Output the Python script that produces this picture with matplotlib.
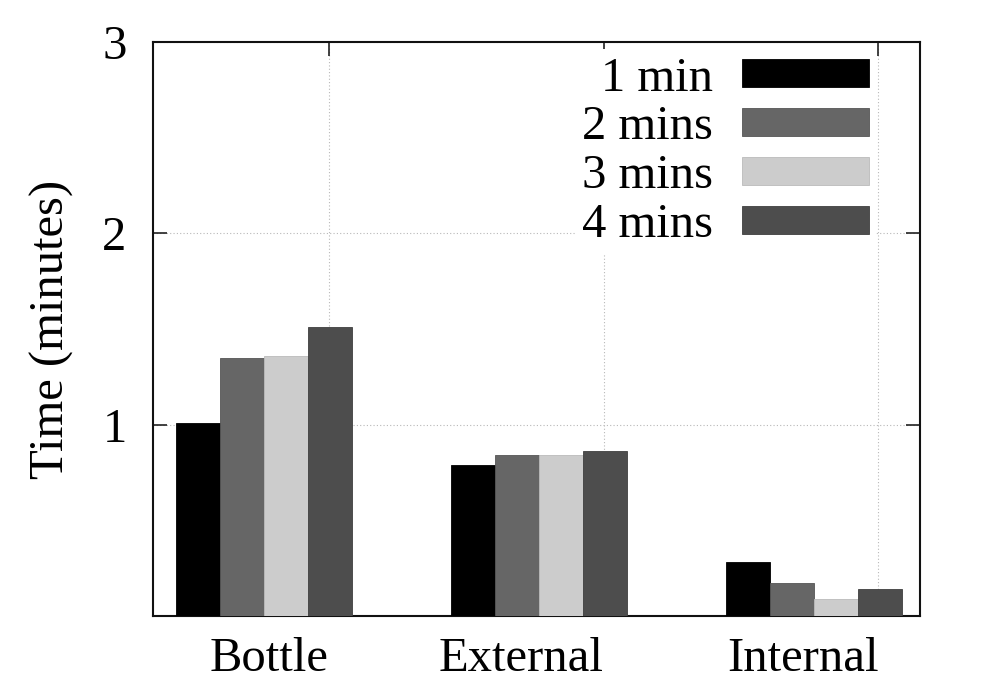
import matplotlib
matplotlib.use("Agg")
import matplotlib.pyplot as plt
import numpy as np

plt.rcParams['font.family'] = ['Liberation Serif', 'DejaVu Serif']
plt.rcParams['mathtext.fontset'] = 'stix'

categories = ["Bottle", "External", "Internal"]
series_labels = ["1 min", "2 mins", "3 mins", "4 mins"]
v_1min = [1.01, 0.79, 0.28]
v_2mins = [1.35, 0.84, 0.17]
v_3mins = [1.36, 0.84, 0.09]
v_4mins = [1.51, 0.86, 0.14]
y_ticks = [1, 2, 3]

series = [v_1min, v_2mins, v_3mins, v_4mins]
colors = ["#000000", "#666666", "#cccccc", "#4d4d4d"]
edges = ["#000000", "#555555", "#bbbbbb", "#3f3f3f"]

fs = 35
fig = plt.figure(figsize=(10, 7), dpi=100)
ax = fig.add_axes([0.153, 0.12, 0.767, 0.82])

x = np.arange(len(categories))
w = 0.16
for k, (vals, lab) in enumerate(zip(series, series_labels)):
    ax.bar(x + (k - 1.5) * w, vals, w, color=colors[k], edgecolor=edges[k],
           linewidth=0.6, label=lab, zorder=3)

ax.set_xlim(-0.404, 2.386)
ax.set_ylim(0, 3)

tick_off = 0.235
ax.set_xticks(x + tick_off)
ax.set_xticklabels(categories, fontsize=fs, ha='right')
ax.set_yticks(y_ticks)
ax.set_yticklabels([str(t) for t in y_ticks], fontsize=fs)
ax.tick_params(axis='both', direction='in', length=10, width=1.2,
               top=True, right=True, color='#222222')
ax.tick_params(axis='x', pad=15, length=10)
ax.tick_params(axis='y', pad=19)

ax.grid(True, linestyle=(0, (1, 2)), color='#b8b8b8', linewidth=0.8, zorder=0)
ax.set_axisbelow(True)
for s in ax.spines.values():
    s.set_linewidth(1.5)
    s.set_color('#111111')

ax.set_ylabel("Time (minutes)", fontsize=fs, labelpad=20)

leg = ax.legend(loc='upper right', bbox_to_anchor=(0.952, 1.0), fontsize=fs,
                markerfirst=False, handlelength=2.6, handleheight=0.5,
                handletextpad=0.6, labelspacing=0.1, borderpad=0.15,
                frameon=True, fancybox=False, borderaxespad=0.15)
leg.get_frame().set_edgecolor('none')
leg.get_frame().set_facecolor('white')
leg.get_frame().set_alpha(1)
leg.set_zorder(5)

fig.savefig("out.png", dpi=100)
